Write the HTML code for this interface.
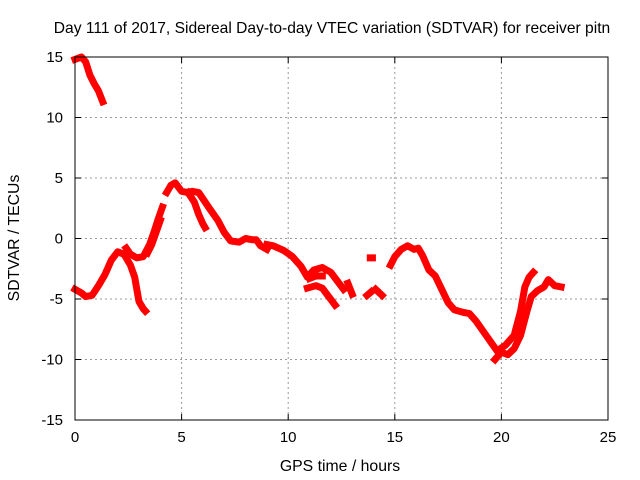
<!DOCTYPE html>
<html><head><meta charset="utf-8"><style>
body{margin:0;background:#fff}
svg{display:block;font-family:"Liberation Sans",sans-serif;font-size:15px}
</style></head><body>
<svg id="chart" width="640" height="480" viewBox="0 0 640 480">
<rect width="640" height="480" fill="#fff"/>
<text x="332" y="33" text-anchor="middle" style="font-size:15.6px">Day 111 of 2017, Sidereal Day-to-day VTEC variation (SDTVAR) for receiver pitn</text>
<text x="340" y="471" text-anchor="middle" style="font-size:15.8px">GPS time / hours</text>
<text transform="translate(19,238) rotate(-90)" text-anchor="middle" style="font-size:15.8px">SDTVAR / TECUs</text>
<g id="grid"></g><g id="series"></g><g id="axes"></g>
</svg>
<script>
const xTicks=[0,5,10,15,20,25];
const yTicks=[15,10,5,0,-5,-10,-15];
const seg1=[[0,14.8],[0.3,15],[0.5,14.6],[0.7,13.5],[0.9,12.8],[1.1,12.2],[1.3,11.3]];
const seg2=[[0,-4.2],[0.3,-4.5],[0.5,-4.8],[0.8,-4.7],[1.1,-3.9],[1.4,-3],[1.7,-1.8],[2.0,-1.1],[2.3,-1.3],[2.6,-2.2],[2.8,-3.2],[3.0,-5.2],[3.2,-5.8],[3.3,-6]];
const seg3=[[2.4,-0.8],[2.6,-1.3],[2.9,-1.6],[3.2,-1.5],[3.5,-0.5],[3.7,0.5],[3.9,1.6],[4.1,2.6]];
const seg3b=[[3.4,-1.2],[3.6,-0.5],[3.8,0.5],[4.0,1.5]];
const seg4=[[4.3,3.8],[4.5,4.4],[4.7,4.6],[5.0,3.9],[5.3,3.8],[5.5,3.9],[5.8,3.8],[6.3,2.5],[6.7,1.5],[7.0,0.5],[7.3,-0.2],[7.7,-0.3],[8.0,0],[8.3,-0.1],[8.5,-0.1],[8.7,-0.6],[9.0,-0.9]];
const seg4b=[[5.3,3.8],[5.6,3.0],[5.8,2.0],[6.0,1.2],[6.1,0.9]];
const seg5=[[9.0,-0.5],[9.3,-0.6],[9.8,-1.0],[10.2,-1.5],[10.6,-2.3],[10.9,-3.2],[11.2,-2.6],[11.6,-2.4],[12.0,-2.8],[12.3,-3.5],[12.6,-4.2]];
const seg5b=[[10.9,-4.1],[11.3,-3.9],[11.6,-4.1],[11.9,-4.8],[12.2,-5.5]];
const seg5c=[[11.0,-3.3],[11.3,-3.1],[11.6,-3.1]];
const seg6=[[12.8,-3.7],[13.0,-4.6]];
const seg6b=[[13.7,-4.7],[13.9,-4.4]];
const seg6c=[[14.1,-4.2],[14.4,-4.7]];
const seg6d=[[13.85,-1.6],[13.95,-1.6]];
const seg7=[[14.8,-2.2],[15.0,-1.5],[15.3,-0.9],[15.6,-0.6],[15.9,-0.9],[16.1,-0.8],[16.3,-1.4],[16.6,-2.6],[16.9,-3.1],[17.2,-4.2],[17.5,-5.3],[17.8,-5.9],[18.2,-6.1],[18.5,-6.2],[18.8,-6.8],[19.2,-7.8],[19.6,-8.8],[19.8,-9.3],[20.2,-8.8],[20.6,-8.0],[20.9,-6.0],[21.1,-4.0],[21.3,-3.2],[21.5,-2.8]];
const seg8=[[19.7,-10],[20,-9.4],[20.3,-9.6],[20.6,-9.1],[20.9,-8.0],[21.2,-6.0],[21.4,-4.8],[21.7,-4.3],[22.0,-4.0],[22.2,-3.4],[22.5,-3.9],[22.8,-4.0]];
const segments=[seg1,seg2,seg3,seg3b,seg4,seg4b,seg5,seg5b,seg5c,seg6,seg6b,seg6c,seg6d,seg7,seg8];

const L=75,R=608,T=57,B=420,NS="http://www.w3.org/2000/svg";
const xs=v=>L+(v-0)/25*(R-L);
const ys=v=>B-(v+15)/30*(B-T);
const grid=document.getElementById('grid'),axes=document.getElementById('axes'),ser=document.getElementById('series');
function mk(t,a,p){const e=document.createElementNS(NS,t);for(const k in a)e.setAttribute(k,a[k]);p.appendChild(e);return e;}
xTicks.forEach(v=>{
  const x=xs(v);
  if(v>0&&v<25){const g=mk('line',{x1:x,x2:x,y1:T,y2:B,stroke:'#999','stroke-dasharray':'2,3'},grid);
  
  }
  mk('line',{x1:x,x2:x,y1:B,y2:B-6,stroke:'#000'},axes);
  mk('line',{x1:x,x2:x,y1:T,y2:T+6,stroke:'#000'},axes);
  const t=mk('text',{x:x,y:B+22,'text-anchor':'middle'},axes);t.textContent=v;
  
  
});
yTicks.forEach(v=>{
  const y=ys(v);
  if(v>-15&&v<15){const g=mk('line',{x1:L,x2:R,y1:y,y2:y,stroke:'#999','stroke-dasharray':'2,3'},grid);
  
  }
  mk('line',{x1:L,x2:L+6,y1:y,y2:y,stroke:'#000'},axes);
  mk('line',{x1:R,x2:R-6,y1:y,y2:y,stroke:'#000'},axes);
  const t=mk('text',{x:L-12,y:y+5,'text-anchor':'end'},axes);t.textContent=v;
  
  
});
const fr=mk('rect',{x:L,y:T,width:R-L,height:B-T,fill:'none',stroke:'#000'},axes);


segments.forEach(s=>{
  const p=mk('polyline',{points:s.map(d=>xs(d[0])+','+ys(d[1])).join(' '),fill:'none',stroke:'#f00','stroke-width':7,'stroke-linejoin':'round','stroke-linecap':'square'},ser);
  
  
});
</script>
</body></html>
